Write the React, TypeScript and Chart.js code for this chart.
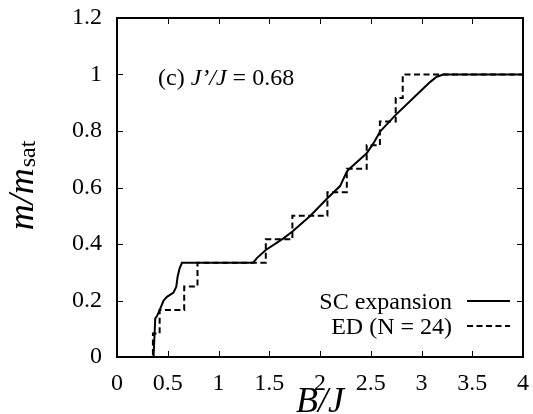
import React, { useEffect, useRef } from "react";
import { Chart, registerables } from "chart.js";

Chart.register(...registerables);

// SC expansion curve (B/J, m/msat)
const scB = [0, 0.36, 0.377, 0.394, 0.42, 0.459, 0.492, 0.557, 0.584, 0.597, 0.617, 0.64, 1.34, 1.378, 1.466, 1.64, 1.728, 1.903, 2.073, 2.198, 2.264, 2.296, 2.46, 2.526, 2.592, 2.746, 2.953, 3.084, 3.15, 3.215, 4];
const scM = [0, 0, 0.137, 0.145, 0.166, 0.2, 0.213, 0.228, 0.249, 0.284, 0.314, 0.3333, 0.3333, 0.35, 0.379, 0.42, 0.444, 0.499, 0.562, 0.605, 0.656, 0.668, 0.721, 0.756, 0.798, 0.857, 0.928, 0.973, 0.992, 1, 1];

// ED (N = 24) staircase: field where each step happens, value after the step
const edB = [0, 0.354, 0.42, 0.662, 0.793, 1.466, 1.728, 2.073, 2.264, 2.46, 2.59, 2.746, 2.815, 4];
const edM = [0, 0.0833, 0.1667, 0.25, 0.3333, 0.4167, 0.5, 0.5833, 0.6667, 0.75, 0.8333, 0.9167, 1, 1];

const xTicks = [0, 0.5, 1, 1.5, 2, 2.5, 3, 3.5, 4];
const yTicks = [0, 0.2, 0.4, 0.6, 0.8, 1, 1.2];

const seriesNames = ["SC expansion", "ED (N = 24)"];

const SERIF = "'Liberation Serif', 'Times New Roman', serif";
const FS = 24;

const decorPlugin = {
  id: "decor",
  afterDraw(chart: any) {
    const ctx = chart.ctx;
    const a = chart.chartArea;
    const xs = chart.scales.x;
    const ys = chart.scales.y;
    ctx.save();
    // ticks (inward, all sides)
    ctx.strokeStyle = "#000";
    ctx.lineWidth = 1;
    const tl = 6;
    ctx.beginPath();
    xTicks.forEach((v) => {
      const px = Math.round(xs.getPixelForValue(v)) + 0.5;
      ctx.moveTo(px, a.bottom);
      ctx.lineTo(px, a.bottom - tl);
      ctx.moveTo(px, a.top);
      ctx.lineTo(px, a.top + tl);
    });
    yTicks.forEach((v) => {
      const py = Math.round(ys.getPixelForValue(v)) + 0.5;
      ctx.moveTo(a.left, py);
      ctx.lineTo(a.left + tl, py);
      ctx.moveTo(a.right, py);
      ctx.lineTo(a.right - tl, py);
    });
    ctx.stroke();
    // frame
    ctx.lineWidth = 2;
    ctx.strokeRect(a.left, a.top, a.right - a.left, a.bottom - a.top);

    ctx.fillStyle = "#000";
    ctx.textBaseline = "alphabetic";

    // annotation "(c) J'/J = 0.68"
    let x = 158;
    const by = 84.5;
    const parts: [string, boolean][] = [["(c) ", false], ["J\u2019/J", true], [" = 0.68", false]];
    parts.forEach(([t, it]) => {
      ctx.font = `${it ? "italic " : ""}${FS}px ${SERIF}`;
      ctx.textAlign = "left";
      ctx.fillText(t, x, by);
      x += ctx.measureText(t).width;
    });

    // legend
    ctx.font = `${FS}px ${SERIF}`;
    ctx.textAlign = "right";
    ctx.fillText(seriesNames[0], 452, 309);
    ctx.fillText(seriesNames[1], 452, 334);
    ctx.lineWidth = 2;
    ctx.beginPath();
    ctx.moveTo(467, 301);
    ctx.lineTo(510, 301);
    ctx.stroke();
    ctx.setLineDash([6, 3.5]);
    ctx.beginPath();
    ctx.moveTo(467, 326);
    ctx.lineTo(510, 326);
    ctx.stroke();
    ctx.setLineDash([]);

    // x title B/J
    ctx.font = `italic 36px ${SERIF}`;
    ctx.textAlign = "center";
    ctx.fillText("B/J", (a.left + a.right) / 2, 412);

    // y title m/m_sat
    ctx.save();
    ctx.translate(33, 186);
    ctx.rotate(-Math.PI / 2);
    ctx.font = `italic 36px ${SERIF}`;
    const w1 = ctx.measureText("m/m").width;
    ctx.font = `${FS}px ${SERIF}`;
    const w2 = ctx.measureText("sat").width;
    const start = -(w1 + w2) / 2;
    ctx.textAlign = "left";
    ctx.font = `italic 36px ${SERIF}`;
    ctx.fillText("m/m", start, 0);
    ctx.font = `${FS}px ${SERIF}`;
    ctx.fillText("sat", start + w1 + 1, 2);
    ctx.restore();

    ctx.restore();
  },
};

export default function App() {
  const ref = useRef<HTMLCanvasElement | null>(null);
  useEffect(() => {
    if (!ref.current) return;
    const chart = new Chart(ref.current, {
      type: "line",
      data: {
        datasets: [
          {
            label: seriesNames[0],
            data: scB.map((b, i) => ({ x: b, y: scM[i] })),
            borderColor: "#000",
            borderWidth: 2,
            pointRadius: 0,
            tension: 0,
            fill: false,
          },
          {
            label: seriesNames[1],
            data: edB.map((b, i) => ({ x: b, y: edM[i] })),
            borderColor: "#000",
            borderWidth: 2,
            borderDash: [6, 3.5],
            pointRadius: 0,
            stepped: "before",
            fill: false,
          },
        ],
      },
      options: {
        animation: false,
        responsive: true,
        maintainAspectRatio: false,
        layout: { padding: { top: 18, right: 10, left: 0, bottom: 0 } },
        plugins: { legend: { display: false }, tooltip: { enabled: false } },
        scales: {
          x: {
            type: "linear",
            min: 0,
            max: 4,
            afterBuildTicks: (s: any) => {
              s.ticks = xTicks.map((v) => ({ value: v }));
            },
            afterFit: (s: any) => {
              s.height = 57;
              s.paddingLeft = 0;
              s.paddingRight = 0;
              s.paddingTop = 0;
              s.paddingBottom = 0;
            },
            grid: { display: false, drawTicks: false },
            border: { display: false },
            ticks: {
              padding: 12,
              color: "#000",
              font: { family: SERIF, size: FS },
              maxRotation: 0,
              autoSkip: false,
              callback: (v: any) => String(Number(Number(v).toFixed(2))),
            },
          },
          y: {
            type: "linear",
            min: 0,
            max: 1.2,
            afterBuildTicks: (s: any) => {
              s.ticks = yTicks.map((v) => ({ value: v }));
            },
            afterFit: (s: any) => {
              s.width = 117;
              s.paddingLeft = 0;
              s.paddingRight = 0;
              s.paddingTop = 0;
              s.paddingBottom = 0;
            },
            grid: { display: false, drawTicks: false },
            border: { display: false },
            ticks: {
              padding: 15,
              color: "#000",
              font: { family: SERIF, size: FS },
              autoSkip: false,
              callback: (v: any) => String(Number(Number(v).toFixed(2))),
            },
          },
        },
      },
      plugins: [decorPlugin],
    });
    return () => chart.destroy();
  }, []);
  return (
    <div style={{ position: "fixed", left: 0, top: 0, width: 533, height: 414, background: "#fff" }}>
      <canvas ref={ref} />
    </div>
  );
}
